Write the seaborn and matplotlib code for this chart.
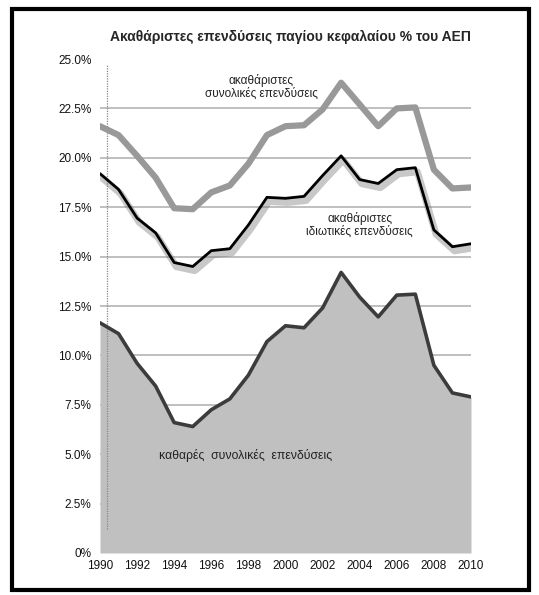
import pandas as pd
import matplotlib
matplotlib.use('Agg')
import matplotlib.pyplot as plt
import matplotlib.patheffects as pe
from matplotlib.patches import Rectangle
from matplotlib.ticker import FuncFormatter
import seaborn as sns

# Data (% of GDP)
years = list(range(1990, 2011))
gross_total = [21.6, 21.15, 20.1, 19.0, 17.45, 17.4, 18.25, 18.6, 19.7, 21.15, 21.6,
               21.65, 22.45, 23.8, 22.7, 21.6, 22.5, 22.55, 19.4, 18.45, 18.5]
gross_private = [19.2, 18.4, 16.95, 16.2, 14.7, 14.5, 15.3, 15.4, 16.6, 18.0, 17.95,
                 18.05, 19.1, 20.1, 18.9, 18.7, 19.4, 19.5, 16.35, 15.5, 15.65]
net_total = [11.65, 11.1, 9.6, 8.45, 6.6, 6.4, 7.25, 7.8, 9.0, 10.7, 11.5,
             11.4, 12.4, 14.2, 12.95, 11.95, 13.05, 13.1, 9.5, 8.1, 7.9]

title = 'Ακαθάριστες επενδύσεις παγίου κεφαλαίου % του ΑΕΠ'
label_total = 'ακαθάριστες\nσυνολικές επενδύσεις'
label_private = 'ακαθάριστες\nιδιωτικές επενδύσεις'
label_net = 'καθαρές  συνολικές  επενδύσεις'

df = pd.DataFrame({'year': years, 'total': gross_total,
                   'private': gross_private, 'net': net_total})

sns.set_style('white')
plt.rcParams['font.family'] = ['Liberation Sans', 'DejaVu Sans']

fig = plt.figure(figsize=(5.39, 5.95), dpi=100)
ax = fig.add_axes([0.1855, 0.0706, 0.6883, 0.8302])

# Horizontal gridlines (behind the fill)
for v in [2.5, 5, 7.5, 10, 12.5, 15, 17.5, 20, 22.5]:
    ax.axhline(v, color='#b4b4b4', lw=1.2, zorder=0)

# Net investment area
ax.fill_between(df['year'], 0, df['net'], color='#c0c0c0', lw=0, zorder=1)
sns.lineplot(data=df, x='year', y='net', ax=ax, color='#3c3c3c', lw=2.6, zorder=3)

# Gross total
sns.lineplot(data=df, x='year', y='total', ax=ax, color='#999999', lw=4.5, zorder=3)

# Gross private with shadow
sns.lineplot(data=df, x='year', y='private', ax=ax, color='black', lw=2.0, zorder=4,
             path_effects=[pe.SimpleLineShadow(offset=(1.5, -3), shadow_color='#777777',
                                               alpha=0.4, linewidth=5),
                           pe.Normal()])

# Dotted vertical reference line
ax.plot([1990.38, 1990.38], [1.2, 24.7], color='#888888', lw=0.9, ls=(0, (1, 1)), zorder=2)

ax.set_xlim(1990, 2010)
ax.set_ylim(0, 25)
ax.set_xticks(range(1990, 2011, 2))
ax.set_yticks([0, 2.5, 5, 7.5, 10, 12.5, 15, 17.5, 20, 22.5, 25])
ax.yaxis.set_major_formatter(FuncFormatter(lambda v, p: '0%' if v == 0 else f'{v:.1f}%'))
ax.tick_params(axis='both', length=0, labelsize=8.5, colors='#111111')
ax.tick_params(axis='y', pad=6)
ax.tick_params(axis='x', pad=5)
ax.set_xlabel('')
ax.set_ylabel('')
for s in ax.spines.values():
    s.set_visible(False)

ax.text(2000.25, 26.1, title, ha='center', va='center', fontsize=10, fontweight='bold')
ax.text(1998.7, 23.6, label_total, ha='center', va='center', fontsize=8.5,
        color='#222222', linespacing=1.05)
ax.text(2004.0, 16.6, label_private, ha='center', va='center', fontsize=8.5,
        color='#222222', linespacing=1.05)
ax.text(1993.2, 4.95, label_net, ha='left', va='center', fontsize=8.8, color='#222222')

# Outer black frame
fig.patches.append(Rectangle((12 / 539, 1 - 590 / 595), 517 / 539, 581 / 595,
                             transform=fig.transFigure, fill=False,
                             edgecolor='black', lw=3))

fig.savefig('out.png', dpi=100)
